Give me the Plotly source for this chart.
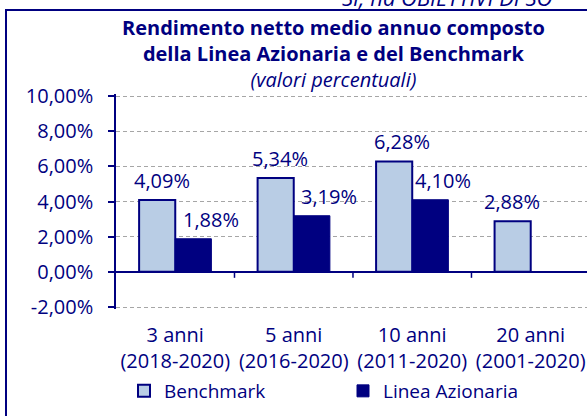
import plotly.graph_objects as go

# ---- data ----
categories = ["3 anni<br>(2018-2020)", "5 anni<br>(2016-2020)",
              "10 anni<br>(2011-2020)", "20 anni<br>(2001-2020)"]
benchmark = [4.09, 5.34, 6.28, 2.88]
linea_azionaria = [1.88, 3.19, 4.10, None]
y_ticks = [-2, 0, 2, 4, 6, 8, 10]

title_lines = ["Rendimento netto medio annuo composto",
               "della Linea Azionaria e del Benchmark"]
subtitle = "(valori percentuali)"
top_fragment = "SI, ha OBIETTIVI DI SO"

# ---- style ----
W, H = 587, 416
L, R, T, B = 116, 0, 94, 107
PW, PH = W - L - R, H - T - B
PAD_UNITS = 2 / 17.6          # 2px of headroom so the edge gridlines are drawn
NAVY = "#000080"
LIGHT = "#B9CDE5"
GRID = "#A6A6A6"
FONT = "Open Sans"
bench_label_dx = [5, 4, 8, -1]
linea_label_dx = [18, 17, 13, 0]
BAR_HALF = 18


def px_x(px):
    return (px - L) / PW


def px_y(py):
    return (H - B - py) / PH


def fmt(v):
    return f"{v:.2f}".replace(".", ",") + "%"


fig = go.Figure()
fig.add_trace(go.Bar(name="Benchmark", x=categories, y=benchmark,
                     marker=dict(color=LIGHT, line=dict(color=NAVY, width=2))))
fig.add_trace(go.Bar(name="Linea Azionaria", x=categories, y=linea_azionaria,
                     marker=dict(color=NAVY, line=dict(color=NAVY, width=1))))

annotations = []
for i, c in enumerate(categories):
    if benchmark[i] is not None:
        annotations.append(dict(x=c, y=benchmark[i], xref="x", yref="y",
                                text=fmt(benchmark[i]), showarrow=False,
                                yanchor="bottom", xshift=-BAR_HALF + bench_label_dx[i],
                                yshift=4, font=dict(family=FONT, size=20, color=NAVY)))
    if linea_azionaria[i] is not None:
        annotations.append(dict(x=c, y=linea_azionaria[i], xref="x", yref="y",
                                text=fmt(linea_azionaria[i]), showarrow=False,
                                yanchor="bottom", xshift=BAR_HALF + linea_label_dx[i],
                                yshift=4, font=dict(family=FONT, size=20, color=NAVY)))

annotations.append(dict(
    x=px_x(333), y=px_y(12), xref="paper", yref="paper", xanchor="center", yanchor="top",
    showarrow=False,
    text="<b>" + title_lines[0] + "<br>" + title_lines[1] + "</b><br><i>" + subtitle + "</i>",
    font=dict(family=FONT, size=20, color=NAVY)))
annotations.append(dict(
    x=px_x(340), y=px_y(14), xref="paper", yref="paper", xanchor="left", yanchor="bottom",
    showarrow=False, text="<i>" + top_fragment + "</i>",
    font=dict(family=FONT, size=22, color=NAVY)))

shapes = [dict(type="rect", xref="paper", yref="paper",
               x0=px_x(6), x1=px_x(W + 20), y0=px_y(10), y1=px_y(H + 20),
               line=dict(color=NAVY, width=2))]
# category-boundary tick marks hanging from the zero line
for i in range(len(categories) - 1):
    shapes.append(dict(type="line", xref="x", yref="y", x0=i + 0.5, x1=i + 0.5,
                       ysizemode="pixel", yanchor=0, y0=0, y1=-6,
                       line=dict(color=NAVY, width=1.5)))

fig.update_layout(
    width=W, height=H,
    margin=dict(l=L, r=R, t=T, b=B, pad=0, autoexpand=False),
    paper_bgcolor="white", plot_bgcolor="rgba(255,255,255,0)",
    barmode="group", bargap=0.39, bargroupgap=0,
    font=dict(family=FONT, size=20, color=NAVY),
    showlegend=True,
    legend=dict(orientation="h", x=px_x(124), xanchor="left",
                y=px_y(391), yanchor="middle",
                font=dict(family=FONT, size=19, color=NAVY),
                entrywidth=174, entrywidthmode="pixels",
                bgcolor="rgba(0,0,0,0)", itemclick=False),
    xaxis=dict(type="category", categoryorder="array", categoryarray=categories,
               range=[-0.5, 3.475], showline=False, showgrid=False, ticks="",
               zeroline=False, ticklabelstandoff=12, automargin=False,
               tickfont=dict(family=FONT, size=20, color=NAVY)),
    yaxis=dict(range=[min(y_ticks) - PAD_UNITS, max(y_ticks) + PAD_UNITS],
               tickmode="array", tickvals=y_ticks,
               ticktext=[fmt(v) for v in y_ticks],
               showline=True, linecolor=NAVY, linewidth=1.5,
               ticks="outside", ticklen=6, tickcolor=NAVY, tickwidth=1.5,
               showgrid=True, gridcolor=GRID, gridwidth=1, griddash="4px,3px",
               zeroline=True, zerolinecolor=NAVY, zerolinewidth=1.5,
               ticklabelstandoff=11, automargin=False,
               tickfont=dict(family=FONT, size=20, color=NAVY)),
    annotations=annotations,
    shapes=shapes,
)

fig.write_html("out.html", config={"displayModeBar": False},
               post_script="document.body.style.margin='0px';")
